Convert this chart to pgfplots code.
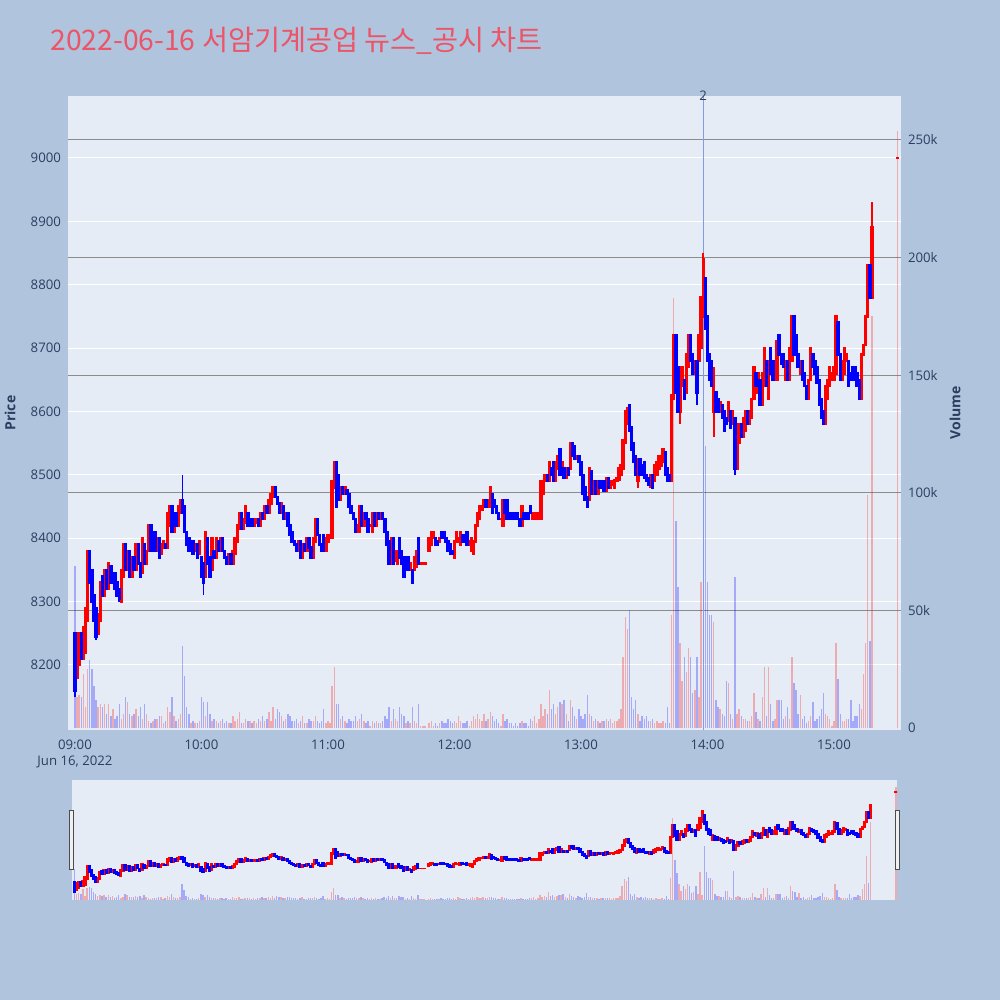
\documentclass[border=0pt]{standalone}
\usepackage{pgfplots}
\pgfplotsset{compat=1.18}
\usepackage{pgfplotstable}
\usepackage{fontspec}
\setmainfont{Open Sans}
\newfontfamily\krfont{Noto Sans CJK KR}
\definecolor{pagebg}{HTML}{B0C4DE}
\definecolor{plotbg}{HTML}{E5ECF6}
\definecolor{axtext}{HTML}{2A3F5F}
\definecolor{titlecol}{RGB}{236,84,103}
\definecolor{upc}{RGB}{255,0,0}
\definecolor{dnc}{RGB}{0,0,255}
\definecolor{newsc}{RGB}{130,155,225}
\definecolor{vgrid}{RGB}{140,140,140}

% t = minutes after 09:00, o/c = open/close, h/l = high/low (0 = body end), v = volume (thousands)
\pgfplotstableread{
t o c h l v
0 8250 8160 0 8150 69
1 8180 8240 0 0 13
2 8200 8250 0 0 14
3 8250 8210 0 0 13
4 8210 8260 0 0 23
5 8220 8290 0 0 9
6 8270 8380 0 0 25
7 8380 8330 0 0 29
8 8350 8300 0 0 25
9 8310 8270 0 0 18
10 8290 8245 0 8240 12
11 8250 8280 0 0 9
12 8270 8330 0 0 10
13 8340 8310 0 0 9
14 8310 8350 0 0 10
15 8350 8320 0 0 6
16 8320 8360 0 0 10
17 8355 8330 0 0 5
18 8330 8345 0 0 8
19 8345 8320 0 0 4
20 8330 8310 0 0 5
21 8320 8305 0 8300 10
22 8300 8350 0 0 4
23 8340 8390 0 0 6
24 8390 8350 0 0 13
25 8350 8380 0 0 11
26 8380 8340 0 0 6
27 8340 8370 0 0 5
28 8370 8350 0 0 6
29 8350 8390 0 0 8
30 8390 8360 0 0 5
31 8360 8340 0 0 9
32 8345 8400 0 0 4
33 8390 8360 0 0 10
34 8360 8380 0 0 6
35 8380 8420 0 0 3
36 8420 8380 0 0 2
37 8380 8410 0 0 3
38 8410 8380 0 0 4
39 8380 8400 0 0 4
40 8400 8370 0 0 5
41 8375 8390 0 0 5
42 8385 8395 0 0 2
43 8390 8385 0 0 3
44 8385 8440 0 0 9
45 8420 8450 0 0 7
46 8450 8410 0 0 13
47 8410 8440 0 0 5
48 8440 8420 0 0 3
49 8420 8450 0 0 4
50 8440 8460 0 0 6
51 8460 8440 8500 0 35
52 8450 8410 0 0 22
53 8410 8390 0 0 9
54 8400 8380 0 0 6
55 8385 8395 0 0 2
56 8395 8375 0 0 3
57 8380 8390 0 0 2
58 8390 8370 0 0 2
59 8375 8395 0 0 3
60 8370 8340 0 0 13
61 8360 8330 0 8310 11
62 8340 8410 0 0 5
63 8400 8360 0 0 11
64 8370 8340 0 0 6
65 8350 8400 0 0 3
66 8380 8370 0 0 4
67 8370 8400 0 0 3
68 8395 8380 0 0 2
69 8380 8400 0 0 3
70 8400 8380 0 0 4
71 8380 8370 0 0 2
72 8370 8360 0 0 3
73 8360 8375 0 0 2
74 8375 8360 0 0 2
75 8360 8380 0 0 5
76 8375 8400 0 0 3
77 8395 8420 0 0 4
78 8415 8440 0 0 7
79 8440 8415 0 0 2
80 8415 8430 0 0 2
81 8425 8450 0 0 4
82 8440 8420 0 0 3
83 8420 8430 0 0 3
84 8430 8420 0 0 2
85 8420 8430 0 0 3
86 8425 8430 0 0 2
87 8430 8420 0 0 4
88 8420 8440 0 0 3
89 8440 8430 0 0 5
90 8430 8450 0 0 3
91 8450 8440 0 0 4
92 8440 8460 0 0 7
93 8455 8470 0 0 3
94 8465 8480 0 0 9
95 8480 8465 0 0 4
96 8465 8455 0 0 8
97 8455 8440 0 0 7
98 8440 8455 0 0 5
99 8450 8430 0 0 3
100 8430 8440 0 0 4
101 8440 8420 0 0 6
102 8420 8405 0 0 5
103 8410 8395 0 0 3
104 8395 8390 0 0 3
105 8390 8380 0 0 4
106 8380 8395 0 0 2
107 8395 8370 0 0 3
108 8370 8390 0 0 5
109 8390 8380 0 0 2
110 8380 8400 0 0 2
111 8400 8385 0 0 4
112 8385 8370 0 0 3
113 8370 8400 0 0 3
114 8395 8430 0 0 5
115 8430 8405 0 0 3
116 8405 8390 0 0 2
117 8390 8380 0 0 3
118 8405 8380 0 0 8
119 8380 8400 0 0 2
120 8395 8405 0 0 3
121 8400 8405 0 0 2
122 8400 8490 0 0 18
123 8480 8520 0 0 26
124 8520 8450 0 0 10
125 8500 8460 0 0 10
126 8460 8480 0 0 4
127 8480 8470 0 0 5
128 8470 8480 0 0 3
129 8475 8470 0 0 2
130 8470 8450 0 0 4
131 8450 8440 0 0 3
132 8440 8430 0 0 3
133 8430 8410 0 0 5
134 8410 8420 0 0 3
135 8410 8450 0 0 4
136 8450 8420 0 0 6
137 8420 8440 0 0 3
138 8440 8430 0 0 2
139 8430 8410 0 0 3
140 8420 8420 0 0 1
141 8410 8440 0 0 3
142 8440 8420 0 0 2
143 8420 8440 0 0 3
144 8440 8430 0 0 2
145 8430 8440 0 0 2
146 8440 8430 0 0 3
147 8430 8410 0 0 5
148 8410 8390 0 0 4
149 8395 8360 0 0 9
150 8360 8400 0 0 3
151 8400 8360 0 0 8
152 8365 8380 0 0 4
153 8360 8380 0 0 3
154 8400 8370 0 0 9
155 8380 8360 0 0 6
156 8370 8340 0 0 5
157 8350 8370 0 0 2
158 8370 8350 0 0 3
159 8350 8360 0 0 2
160 8350 8330 0 0 9
161 8350 8370 0 0 3
162 8355 8380 0 0 2
163 8400 8360 0 0 10
164 8360 8360 0 0 1
165 8360 8360 0 0 1
166 8360 8360 0 0 1
168 8380 8400 0 0 2
169 8390 8410 0 0 3
170 8400 8410 0 0 1
171 8400 8390 0 0 2
172 8395 8390 0 0 1
173 8395 8400 0 0 2
174 8410 8400 0 0 3
175 8410 8400 0 0 2
176 8400 8395 0 0 2
177 8395 8380 0 0 4
178 8390 8375 0 0 3
179 8380 8375 0 0 2
180 8370 8395 0 0 3
181 8395 8410 0 0 2
182 8395 8400 0 0 5
183 8390 8410 0 0 3
184 8405 8395 0 0 2
185 8400 8395 0 0 2
186 8410 8390 0 0 3
187 8390 8395 0 0 1
188 8380 8400 0 0 3
189 8375 8395 0 0 5
190 8395 8420 0 0 4
191 8420 8440 0 0 6
192 8430 8450 0 0 4
193 8445 8450 0 0 3
194 8450 8460 0 0 6
195 8460 8450 0 0 3
196 8450 8460 0 0 4
197 8450 8480 0 0 7
198 8470 8440 0 0 5
199 8460 8450 0 0 3
200 8450 8440 0 0 4
201 8440 8430 0 0 2
202 8430 8430 0 0 1
203 8420 8460 0 0 6
204 8460 8440 0 0 3
205 8460 8430 0 0 4
206 8440 8430 0 0 2
207 8440 8430 0 0 2
208 8440 8430 0 0 1
209 8440 8430 0 0 2
210 8440 8430 0 0 1
211 8430 8420 0 0 2
212 8420 8450 0 0 3
213 8440 8430 0 0 2
214 8440 8430 0 0 2
215 8440 8430 0 0 1
216 8450 8440 0 0 4
217 8430 8440 0 0 3
218 8430 8440 0 0 5
219 8430 8440 0 0 2
220 8430 8440 0 0 4
221 8430 8490 0 0 10
222 8470 8490 0 0 5
223 8490 8500 0 0 8
224 8500 8490 0 0 6
225 8490 8520 0 0 16
226 8510 8500 0 0 8
227 8520 8490 0 0 10
228 8490 8520 0 0 6
229 8510 8530 0 0 9
230 8540 8500 0 0 11
231 8500 8520 0 0 10
232 8510 8495 0 0 12
233 8495 8510 0 0 6
234 8510 8500 0 0 3
235 8510 8550 0 0 12
236 8550 8530 0 0 9
237 8545 8525 0 0 5
238 8525 8530 0 0 4
239 8530 8520 0 0 8
240 8520 8500 0 0 5
241 8500 8470 0 0 4
242 8480 8460 0 0 6
243 8465 8450 0 0 14
244 8460 8510 0 0 6
245 8505 8470 0 0 5
246 8470 8490 0 0 3
247 8490 8470 0 0 4
248 8470 8490 0 0 3
249 8490 8480 0 0 2
250 8480 8490 0 0 3
251 8490 8475 0 0 3
252 8475 8495 0 0 4
253 8495 8480 0 0 3
254 8480 8490 0 0 4
255 8485 8490 0 0 2
256 8480 8492 0 0 3
257 8490 8495 0 0 3
258 8492 8510 0 0 4
259 8500 8515 0 0 8
260 8510 8555 0 0 30
261 8550 8600 0 0 47
262 8580 8605 0 0 42
263 8610 8570 0 0 50
264 8575 8540 0 0 13
265 8550 8520 0 0 8
266 8530 8500 0 0 12
267 8490 8525 0 8480 6
268 8525 8500 0 0 3
269 8515 8500 0 0 5
270 8520 8495 0 0 4
271 8500 8490 0 0 5
272 8495 8485 0 0 3
273 8482 8500 0 0 3
274 8500 8480 0 0 4
275 8490 8515 0 0 2
276 8500 8520 0 0 3
277 8510 8530 0 0 2
278 8515 8525 0 0 2
279 8520 8540 0 0 3
280 8535 8500 0 0 2
281 8510 8490 0 0 9
282 8500 8490 0 0 2
283 8490 8625 0 0 48
284 8620 8720 0 0 183
285 8720 8630 0 0 88
286 8670 8600 0 0 60
287 8600 8650 0 8580 36
288 8640 8670 0 0 20
289 8650 8620 0 0 30
290 8630 8690 0 0 24
291 8670 8720 0 0 34
292 8720 8680 0 0 30
293 8690 8660 0 0 15
294 8660 8680 0 0 16
295 8680 8630 0 8610 30
296 8680 8720 0 0 13
297 8700 8780 0 0 62
298 8750 8840 8850 0 10
299 8810 8730 0 0 120
300 8750 8680 0 0 62
301 8690 8650 0 0 48
302 8680 8640 0 0 48
303 8600 8640 8670 8560 45
304 8630 8600 0 0 12
305 8620 8600 0 0 9
306 8600 8615 0 0 8
307 8610 8590 0 0 6
308 8600 8570 0 0 5
309 8590 8580 0 0 20
310 8585 8615 0 0 19
311 8600 8575 0 0 6
312 8580 8600 0 0 4
313 8590 8510 0 8500 64
314 8510 8560 0 0 6
315 8550 8580 0 0 8
316 8580 8560 0 0 5
317 8560 8590 0 0 4
318 8570 8600 0 0 4
319 8600 8580 0 0 3
320 8580 8600 0 0 3
321 8590 8620 0 0 5
322 8620 8670 0 0 15
323 8660 8640 0 0 7
324 8630 8660 0 0 4
325 8650 8610 0 0 3
326 8610 8660 0 0 13
327 8640 8700 0 0 26
328 8680 8640 0 0 5
329 8620 8680 0 0 26
330 8700 8660 0 0 10
331 8680 8650 0 0 3
332 8650 8670 0 0 4
333 8650 8710 0 0 12
334 8720 8690 0 0 12
335 8690 8675 0 0 12
336 8690 8670 0 0 4
337 8650 8680 0 0 5
338 8680 8650 0 0 9
339 8650 8700 0 0 4
340 8680 8750 0 0 30
341 8750 8690 0 0 19
342 8720 8690 0 0 16
343 8690 8670 0 0 6
344 8660 8680 0 0 14
345 8680 8650 0 0 4
346 8660 8640 0 0 5
347 8640 8620 0 0 2
348 8620 8650 0 0 3
349 8650 8700 0 0 5
350 8690 8670 0 0 11
351 8680 8660 0 0 3
352 8670 8645 0 0 4
353 8650 8610 0 0 5
354 8620 8590 0 0 8
355 8600 8580 0 0 15
356 8580 8640 0 0 6
357 8620 8650 0 0 5
358 8640 8670 0 0 4
359 8650 8660 0 0 1
360 8650 8670 0 0 3
361 8660 8750 0 0 36
362 8740 8690 0 0 21
363 8690 8650 0 0 6
364 8650 8680 0 0 3
365 8660 8700 0 0 3
366 8680 8690 0 0 4
367 8680 8640 0 0 4
368 8660 8650 0 0 12
369 8670 8655 0 0 3
370 8670 8650 0 0 5
371 8660 8640 0 0 5
372 8650 8620 0 0 10
373 8620 8690 0 0 8
374 8690 8705 0 0 23
375 8705 8750 0 0 36
376 8750 8830 0 0 99
377 8830 8780 0 0 37
378 8780 8890 8930 0 175
390 9000 9000 0 0 254
}\data
\pgfplotstablecreatecol[create col/expr={max(\thisrow{h},\thisrow{o},\thisrow{c})}]{hh}{\data}
\pgfplotstablecreatecol[create col/expr={(\thisrow{l}>0)*\thisrow{l}+(\thisrow{l}<1)*min(\thisrow{o},\thisrow{c})}]{ll}{\data}

\tikzset{tl/.style={font=\fontsize{6.6}{8.4}\selectfont, text=axtext}}
\pgfplotsset{
  upsel/.style={restrict expr to domain={\thisrow{c}-\thisrow{o}}{0:5000}},
  dnsel/.style={restrict expr to domain={\thisrow{c}-\thisrow{o}}{-5000:-0.5}},
  mainbox/.style={scale only axis, anchor=south west, at={(34pt,135pt)},
    width=416.5pt, height=317pt, xmin=-3.3, xmax=391.8, enlargelimits=false},
  slidebox/.style={scale only axis, anchor=south west, at={(36pt,50pt)},
    width=412.5pt, height=60pt, xmin=-1.2, xmax=390.5, enlargelimits=false},
}

\newcommand{\candles}[3]{% #1 selector, #2 colour, #3 extra half height
  \addplot[draw=none, mark=none, #1, forget plot,
    error bars/.cd, y dir=both, y explicit, error mark=none,
    error bar style={draw=#2, line width=0.9pt}]
    table[x=t, y expr={\thisrow{ll}+(\thisrow{hh}-\thisrow{ll})/2},
          y error expr={(\thisrow{hh}-\thisrow{ll})/2}] {\data};
  \addplot[draw=none, mark=none, #1, forget plot,
    error bars/.cd, y dir=both, y explicit, error mark=none,
    error bar style={draw=#2, line width=1.7pt, line cap=butt}]
    table[x=t, y expr={min(\thisrow{o},\thisrow{c})+abs(\thisrow{c}-\thisrow{o})/2},
          y error expr={abs(\thisrow{c}-\thisrow{o})/2+#3}] {\data};
}

\begin{document}
\begin{tikzpicture}
\fill[pagebg] (0,0) rectangle (500pt,500pt);
\path[use as bounding box] (0,0) rectangle (500pt,500pt);

% ---- main price axis: background, grid, ticks
\begin{axis}[mainbox, ymin=8097.4, ymax=9097.8,
  axis background/.style={fill=plotbg},
  axis line style={draw=none}, major tick length=0pt,
  ytick={8200,8300,8400,8500,8600,8700,8800,8900,9000},
  yticklabels={8200,8300,8400,8500,8600,8700,8800,8900,9000},
  ymajorgrids, major grid style={white, line width=0.5pt},
  xtick={0,60,120,180,240,300,360},
  xticklabels={{09:00\\Jun 16, 2022},10:00,11:00,12:00,13:00,14:00,15:00},
  xticklabel style={tl, align=center, yshift=-1.2pt},
  yticklabel style={tl},
]
\end{axis}

% ---- volume axis
\begin{axis}[mainbox, ymin=-0.85, ymax=268.7,
  axis x line=none, axis y line*=right,
  axis line style={draw=none}, major tick length=0pt,
  ytick={50,100,150,200,250},
  yticklabels={50k,100k,150k,200k,250k},
  extra y ticks={0}, extra y tick labels={0},
  extra y tick style={ymajorgrids=false},
  ymajorgrids, major grid style={vgrid, line width=0.5pt},
  yticklabel style={tl},
]
\addplot[ycomb, mark=none, upsel, draw=upc, draw opacity=0.28, line width=0.7pt] table[x=t, y=v] {\data};
\addplot[ycomb, mark=none, dnsel, draw=dnc, draw opacity=0.28, line width=0.7pt] table[x=t, y=v] {\data};
\end{axis}

% ---- candles
\begin{axis}[mainbox, ymin=8097.4, ymax=9097.8, hide axis, clip mode=individual]
\addplot[newsc, line width=0.5pt, forget plot] coordinates {(297.9,8097.4) (297.9,9097.8)};
\candles{upsel}{upc}{2}
\candles{dnsel}{dnc}{2}
\node[tl] at (axis cs:297.9,9097.8) {2};
\end{axis}

% ---- range slider
\begin{axis}[slidebox, ymin=-0.85, ymax=268.7,
  axis background/.style={fill=plotbg},
  axis line style={draw=none}, ticks=none]
\addplot[ycomb, mark=none, upsel, draw=upc, draw opacity=0.28, line width=0.7pt] table[x=t, y=v] {\data};
\addplot[ycomb, mark=none, dnsel, draw=dnc, draw opacity=0.28, line width=0.7pt] table[x=t, y=v] {\data};
\end{axis}
\begin{axis}[slidebox, ymin=8097.4, ymax=9097.8, hide axis]
\addplot[draw=none, mark=none, upsel, forget plot,
    error bars/.cd, y dir=both, y explicit, error mark=none,
    error bar style={draw=upc, line width=1.6pt, line cap=butt}]
    table[x=t, y expr={min(\thisrow{o},\thisrow{c})+abs(\thisrow{c}-\thisrow{o})/2},
          y error expr={abs(\thisrow{c}-\thisrow{o})/2+8}] {\data};
\addplot[draw=none, mark=none, dnsel, forget plot,
    error bars/.cd, y dir=both, y explicit, error mark=none,
    error bar style={draw=dnc, line width=1.6pt, line cap=butt}]
    table[x=t, y expr={min(\thisrow{o},\thisrow{c})+abs(\thisrow{c}-\thisrow{o})/2},
          y error expr={abs(\thisrow{c}-\thisrow{o})/2+8}] {\data};
\end{axis}
\filldraw[fill=white!94!black, draw=black!70, line width=0.5pt] (34.65pt,65pt) rectangle (36.65pt,94.65pt);
\filldraw[fill=white!94!black, draw=black!70, line width=0.5pt] (447.5pt,65pt) rectangle (449.5pt,94.65pt);

% ---- titles
\node[anchor=west, text=titlecol, font=\krfont\fontsize{14.15}{17}\selectfont, inner sep=0pt]
  at (25pt,479.5pt) {2022-06-16 서암기계공업 뉴스\_공시 차트};
\node[rotate=90, text=axtext, font=\bfseries\fontsize{7}{8}\selectfont] at (5pt,293.5pt) {Price};
\node[rotate=90, text=axtext, font=\bfseries\fontsize{7}{8}\selectfont] at (477.5pt,293.5pt) {Volume};
\end{tikzpicture}
\end{document}
